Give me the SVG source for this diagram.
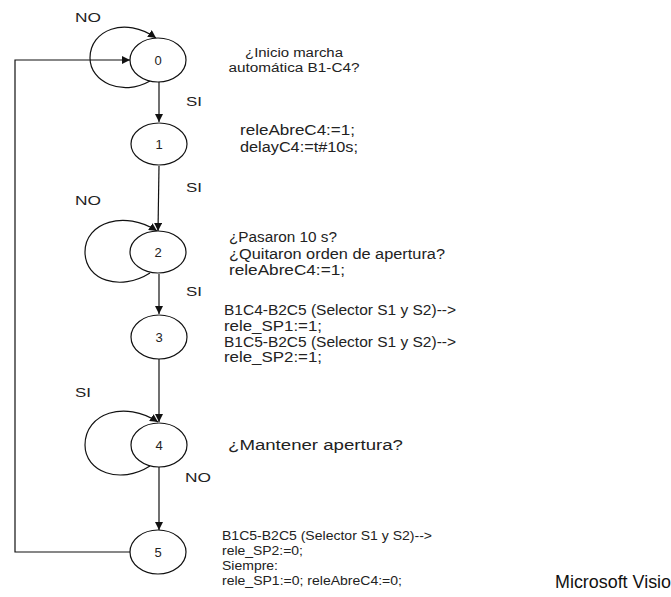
<svg xmlns="http://www.w3.org/2000/svg" width="671" height="597" viewBox="0 0 671 597">
  <style>
    .st { fill: #ffffff; stroke: #111111; stroke-width: 1.2; }
    .num { font-family: "Liberation Sans", Arial, sans-serif; font-size: 13px; fill: #222222; text-anchor: middle; }
    .lbl { font-family: "Liberation Sans", Arial, sans-serif; font-size: 13px; fill: #222222; }
    .txt { font-family: "Liberation Sans", Arial, sans-serif; font-size: 14px; fill: #222222; }
    .sm { font-family: "Liberation Sans", Arial, sans-serif; font-size: 12px; fill: #222222; text-anchor: middle; }
    .bt { font-family: "Liberation Sans", Arial, sans-serif; font-size: 12.5px; fill: #222222; }
    .ln { fill: none; stroke: #111111; stroke-width: 1.2; }
  </style>
  <defs>
    <marker id="arr" viewBox="0 0 10 10" refX="10" refY="5" markerWidth="8" markerHeight="8" markerUnits="userSpaceOnUse" orient="auto">
      <path d="M0,0 L10,5 L0,10 z" fill="#111111"/>
    </marker>
  </defs>
  <rect width="671" height="597" fill="#ffffff"/>

  <!-- transitions -->
  <g id="connectors">
    <path class="ln" d="M150,81 C122,97 90,82 90,58 C90,30 125,16 156,38" marker-end="url(#arr)"/>
    <line class="ln" x1="159" y1="82" x2="159" y2="122" marker-end="url(#arr)"/>
    <line class="ln" x1="159" y1="166" x2="158" y2="231" marker-end="url(#arr)"/>
    <path class="ln" d="M150,273 C120,292 85,280 85,252 C85,222 125,210 157,231" marker-end="url(#arr)"/>
    <line class="ln" x1="159" y1="274" x2="159" y2="314" marker-end="url(#arr)"/>
    <line class="ln" x1="159" y1="359" x2="159" y2="422" marker-end="url(#arr)"/>
    <path class="ln" d="M150,466 C120,485 85,472 85,445 C85,413 125,400 158,422" marker-end="url(#arr)"/>
    <line class="ln" x1="159" y1="467" x2="159" y2="530" marker-end="url(#arr)"/>
    <polyline class="ln" points="131,552 15,552 15,60 130,60" marker-end="url(#arr)"/>
  </g>

  <!-- transition labels -->
  <g id="labels">
    <text class="lbl" x="75" y="22" textLength="26" lengthAdjust="spacingAndGlyphs">NO</text>
    <text class="lbl" x="186" y="106" textLength="16" lengthAdjust="spacingAndGlyphs">SI</text>
    <text class="lbl" x="186" y="192" textLength="16" lengthAdjust="spacingAndGlyphs">SI</text>
    <text class="lbl" x="75" y="205" textLength="26" lengthAdjust="spacingAndGlyphs">NO</text>
    <text class="lbl" x="186" y="296" textLength="16" lengthAdjust="spacingAndGlyphs">SI</text>
    <text class="lbl" x="75" y="397" textLength="16" lengthAdjust="spacingAndGlyphs">SI</text>
    <text class="lbl" x="185" y="482" textLength="26" lengthAdjust="spacingAndGlyphs">NO</text>
  </g>

  <g id="s0">
    <ellipse class="st" cx="158" cy="60" rx="28" ry="22"/>
    <text class="num" x="158" y="65">0</text>
    <text class="sm" x="294" y="57" textLength="98" lengthAdjust="spacingAndGlyphs">¿Inicio marcha</text>
    <text class="sm" x="294" y="72" textLength="131" lengthAdjust="spacingAndGlyphs">automática B1-C4?</text>
  </g>
  <g id="s1">
    <ellipse class="st" cx="159" cy="144" rx="28" ry="21"/>
    <text class="num" x="159" y="149">1</text>
    <text class="txt" x="240" y="135" textLength="115" lengthAdjust="spacingAndGlyphs">releAbreC4:=1;</text>
    <text class="txt" x="240" y="152" textLength="118" lengthAdjust="spacingAndGlyphs">delayC4:=t#10s;</text>
  </g>
  <g id="s2">
    <ellipse class="st" cx="158" cy="252" rx="28" ry="21"/>
    <text class="num" x="158" y="257">2</text>
    <text class="txt" x="229" y="242" textLength="108" lengthAdjust="spacingAndGlyphs">¿Pasaron 10 s?</text>
    <text class="txt" x="229" y="259" textLength="216" lengthAdjust="spacingAndGlyphs">¿Quitaron orden de apertura?</text>
    <text class="txt" x="229" y="275" textLength="116" lengthAdjust="spacingAndGlyphs">releAbreC4:=1;</text>
  </g>
  <g id="s3">
    <ellipse class="st" cx="159" cy="337" rx="28" ry="22"/>
    <text class="num" x="159" y="342">3</text>
    <text class="txt" x="224" y="315" textLength="232" lengthAdjust="spacingAndGlyphs">B1C4-B2C5 (Selector S1 y S2)--&gt;</text>
    <text class="txt" x="224" y="331" textLength="98" lengthAdjust="spacingAndGlyphs">rele_SP1:=1;</text>
    <text class="txt" x="224" y="347" textLength="232" lengthAdjust="spacingAndGlyphs">B1C5-B2C5 (Selector S1 y S2)--&gt;</text>
    <text class="txt" x="224" y="362" textLength="98" lengthAdjust="spacingAndGlyphs">rele_SP2:=1;</text>
  </g>
  <g id="s4">
    <ellipse class="st" cx="159" cy="445" rx="28" ry="22"/>
    <text class="num" x="159" y="450">4</text>
    <text class="txt" x="228" y="450" textLength="175" lengthAdjust="spacingAndGlyphs">¿Mantener apertura?</text>
  </g>
  <g id="s5">
    <ellipse class="st" cx="158" cy="552" rx="28" ry="22"/>
    <text class="num" x="158" y="557">5</text>
    <text class="bt" x="222" y="540" textLength="210" lengthAdjust="spacingAndGlyphs">B1C5-B2C5 (Selector S1 y S2)--&gt;</text>
    <text class="bt" x="222" y="555" textLength="81" lengthAdjust="spacingAndGlyphs">rele_SP2:=0;</text>
    <text class="bt" x="222" y="570" textLength="56" lengthAdjust="spacingAndGlyphs">Siempre:</text>
    <text class="bt" x="222" y="585" textLength="180" lengthAdjust="spacingAndGlyphs">rele_SP1:=0; releAbreC4:=0;</text>
  </g>

  <text x="555" y="588" style="font-family:'Liberation Sans',Arial,sans-serif;font-size:18px;fill:#111111" textLength="116" lengthAdjust="spacingAndGlyphs">Microsoft Visio</text>
</svg>
